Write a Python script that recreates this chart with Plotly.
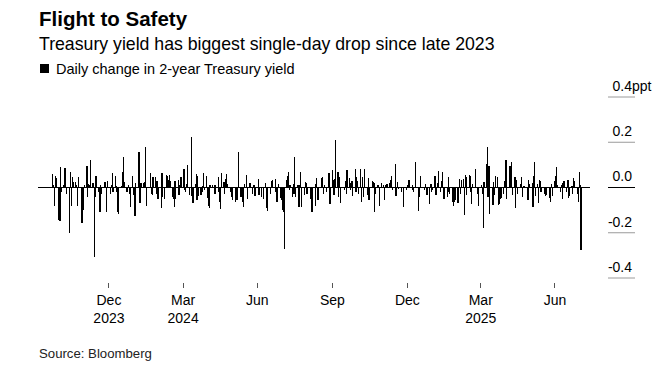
import plotly.graph_objects as go
import pandas as pd

# ---------------- data ----------------
start_date = "2023-10-23"
end_date = "2025-08-01"
market_holidays = [
    "2023-11-10", "2023-11-23", "2023-12-25", "2024-01-01", "2024-01-15",
    "2024-02-19", "2024-05-27", "2024-06-19", "2024-07-04", "2024-09-02",
    "2024-10-14", "2024-11-11", "2024-11-28", "2024-12-25", "2025-01-01",
    "2025-01-20", "2025-02-17", "2025-05-26", "2025-06-19", "2025-07-04",
]

# daily change in 2-year Treasury yield (percentage points), one per trading day
daily_change = [
    0.06, 0.01, -0.08, 0.05, 0.04, -0.145, -0.15, -0.15, 0.09, -0.02,
    0.01, 0.085, 0.04, -0.03, -0.20, 0.07, -0.08, 0.045, 0.025, 0.025,
    0.01, -0.08, 0.045, -0.11, -0.155, -0.14, -0.10, 0.01, 0.094, -0.043,
    0.016, 0.01, 0.12, 0.02, 0.02,
    -0.306,
    -0.043, 0.05, -0.02, -0.035, -0.11, 0.012, -0.028, 0.023, 0.023, -0.11,
    0.03, -0.028, 0.01, 0.065, -0.02, 0.05, 0.005, -0.02, -0.11, -0.115,
    0.005, 0.07, 0.136, 0.026, -0.02, -0.02, 0.01, -0.028, -0.087, 0.053,
    -0.035, -0.05, -0.128, 0.02, 0.048, 0.158, -0.07, 0.02, 0.02, 0.02,
    0.023, 0.179, -0.08, 0.003, 0.063, -0.028, -0.035, 0.045, 0.045, -0.028,
    0.03,
    -0.05, -0.05, -0.09, 0.065, -0.043, 0.002, -0.053, 0.056, 0.053,
    0.034, 0.056, 0.03, -0.043, -0.05, -0.084, 0.03, -0.05, 0.034, -0.035,
    0.009, 0.048, 0.048, 0.082, -0.013, -0.018, 0.016, 0.1, -0.035, 0.002,
    0.224,
    -0.038, -0.067, 0.016, 0.06, -0.057, 0.05, -0.038, -0.032, -0.02, 0.005,
    0.065, -0.013, 0.05, -0.047, -0.08, -0.09, 0.012, 0.009, 0.003, 0.012,
    -0.028, 0.009, 0.045, -0.02, -0.065, -0.094, 0.065, 0.026, -0.028, 0.038,
    0.06, 0.016, -0.02, 0.002, -0.043, -0.057, -0.065, -0.05, -0.057, -0.02,
    0.158,
    -0.043, 0.002, -0.065, -0.087, 0.016, 0.056, -0.05, 0.004, 0.02, -0.028,
    0.009, 0.009, -0.038, 0.004, 0.038, -0.035, -0.028, -0.043, -0.053, 0.002,
    0.02, -0.09, -0.105, 0.002, -0.028, 0.016, 0.03, 0.035, 0.038, -0.02,
    -0.065, -0.028, 0.016, -0.047, -0.057, -0.1, -0.108,
    -0.27,
    0.035, 0.053, 0.07, -0.013, 0.012, -0.043, 0.016, -0.028, 0.133, -0.043,
    0.012, -0.087, 0.009, 0.068, -0.087, 0.002, -0.035, 0.023, 0.02, -0.028,
    -0.05, -0.057, -0.11, -0.1, -0.08, 0.016, 0.041, -0.057, -0.057, -0.003,
    0.041, 0.045, -0.028, 0.009, -0.02, 0.004, 0.016, 0.065, -0.072, 0.079,
    0.035, -0.035, 0.038,
    0.211,
    0.07, -0.043, 0.045, -0.068, 0.003, -0.013, 0.03, -0.028, 0.079, 0.041,
    -0.013, 0.02, 0.03, -0.038, 0.082, -0.02, 0.045, 0.03, -0.028, 0.082,
    -0.065, 0.045, -0.043, 0.082, -0.035, 0.041, -0.057, -0.047, 0.03, 0.026,
    0.02,
    -0.108, -0.028, 0.009, 0.006, -0.08, 0.02, 0.009, -0.057, 0.012, 0.016,
    0.016, 0.02, 0.012, 0.035, 0.05, -0.013, 0.104, -0.038, -0.02, 0.026,
    -0.006, 0.002, -0.02, -0.087, 0.002, -0.013, 0.009, 0.035, 0.02, 0.012,
    -0.013, -0.02, 0.002,
    0.111,
    0.003, -0.105, -0.043, 0.05, -0.003, -0.013, 0.016, -0.028, -0.035, -0.072,
    0.012, 0.016, -0.02, -0.013, 0.05, -0.035, -0.028, 0.02, 0.075, -0.02,
    0.03, 0.068, -0.05, -0.05, -0.043, 0.045, -0.02, -0.028, -0.057, -0.065,
    -0.08, -0.065, -0.057, -0.068, -0.047, 0.038, -0.028, 0.035, 0.038, -0.12,
    0.056, 0.045, -0.035, 0.056, 0.053, -0.02, -0.072, 0.016, 0.003, 0.082,
    0.003, -0.028, -0.08, 0.003, 0.009, -0.028,
    -0.18,
    0.023, 0.104,
    0.177, -0.043, 0.094, -0.116, -0.072, -0.076, 0.026, -0.035, 0.053, 0.045,
    -0.076, -0.072, -0.053, -0.047, -0.028, 0.03, 0.094, 0.123, -0.05, 0.009,
    0.094, 0.053, 0.114, -0.035, 0.045, -0.091, 0.035, -0.028, 0.002, 0.016,
    0.045, -0.043, 0.003, 0.006, -0.035, -0.057, 0.035, 0.016, 0.02, -0.087,
    0.05, 0.111, -0.038, 0.016, -0.068, 0.035, 0.03, -0.02, -0.003, -0.028,
    -0.038, -0.035, -0.047, -0.047, -0.065, 0.016, -0.038, 0.03, 0.05, 0.09,
    0.012, -0.02, 0.009, -0.05, 0.02, 0.03, -0.02, 0.02, 0.035, -0.047,
    -0.038, 0.006, -0.028, 0.041, 0.03, 0.003, -0.028, -0.062, 0.068, 0.012,
    -0.276,
]

x_tick_dates = ["2023-12-31", "2024-03-31", "2024-06-30", "2024-09-30",
                "2024-12-31", "2025-03-31", "2025-06-30"]
x_tick_labels = ["Dec<br>2023", "Mar<br>2024", "Jun", "Sep", "Dec",
                 "Mar<br>2025", "Jun"]
y_tick_values = [-0.4, -0.2, 0.0, 0.2, 0.4]
y_tick_labels = ["-0.4", "-0.2", "0.0", "0.2", "0.4"]
y_unit = "ppt"
x_range = ["2023-10-05", "2025-08-12"]
y_range = [-0.4, 0.4]

title_text = "Flight to Safety"
subtitle_text = "Treasury yield has biggest single-day drop since late 2023"
legend_text = "Daily change in 2-year Treasury yield"
source_text = "Source: Bloomberg"

# ---------------- build ----------------
dates = pd.bdate_range(start_date, end_date, freq="C", holidays=market_holidays)
if len(dates) != len(daily_change):
    raise ValueError(f"{len(dates)} dates vs {len(daily_change)} values")

FONT = "Liberation Sans, Arial, Helvetica, sans-serif"
W, H = 668, 374
ML, MR, MT, MB = 38, 30, 70, 92
PW = W - ML - MR          # paper width in px
PH = H - MT - MB          # paper height in px
PLOT_TOP, PLOT_BOTTOM = 97, 278      # pixel rows of the y range ends


def px_x(px):
    return (px - ML) / PW


def px_y(py):
    return (H - MB - py) / PH


# the label/stub axis uses the same scale as the main y axis, over a taller band
units_per_px = (y_range[1] - y_range[0]) / (PLOT_BOTTOM - PLOT_TOP)
STUB_TOP, STUB_BOTTOM = 72, 281
y2_range = [y_range[0] - (STUB_BOTTOM - PLOT_BOTTOM) * units_per_px,
            y_range[1] + (PLOT_TOP - STUB_TOP) * units_per_px]

fig = go.Figure()
fig.add_trace(go.Bar(
    x=dates, y=daily_change,
    marker=dict(color="#000000", line=dict(width=0)),
    width=86400000 * 1.5,
    showlegend=False,
))
# empty trace that creates the small right-hand subplot holding the y labels
fig.add_trace(go.Scatter(x=[None], y=[None], xaxis="x2", yaxis="y2",
                         showlegend=False, hoverinfo="skip"))

shapes = [dict(
    type="rect", xref="paper", yref="paper",
    x0=px_x(40), x1=px_x(49), y0=px_y(73), y1=px_y(64),
    fillcolor="#000000", line=dict(width=0),
)]
for v in y_tick_values:
    shapes.append(dict(
        type="line", xref="x2", yref="y2", x0=0, x1=1, y0=v, y1=v,
        line=dict(color="#000000" if v == 0 else "#9a9a9a", width=1),
    ))

annotations = [
    dict(text=f"<b>{title_text}</b>", x=px_x(37), y=px_y(18),
         xref="paper", yref="paper", xanchor="left", yanchor="middle",
         showarrow=False, font=dict(family=FONT, size=20.5, color="#000000")),
    dict(text=subtitle_text, x=px_x(37), y=px_y(44),
         xref="paper", yref="paper", xanchor="left", yanchor="middle",
         showarrow=False, font=dict(family=FONT, size=17.7, color="#000000")),
    dict(text=legend_text, x=px_x(54), y=px_y(69),
         xref="paper", yref="paper", xanchor="left", yanchor="middle",
         showarrow=False, font=dict(family=FONT, size=14.5, color="#000000")),
    dict(text=source_text, x=px_x(37), y=px_y(353),
         xref="paper", yref="paper", xanchor="left", yanchor="middle",
         showarrow=False, font=dict(family=FONT, size=13.2, color="#222222")),
    dict(text=y_unit, x=px_x(630), y=y_tick_values[-1], yshift=11,
         xref="paper", yref="y2", xanchor="left", yanchor="middle",
         showarrow=False, font=dict(family=FONT, size=14, color="#000000")),
]

fig.update_layout(
    width=W, height=H,
    margin=dict(l=ML, r=MR, t=MT, b=MB, pad=0, autoexpand=False),
    paper_bgcolor="#ffffff", plot_bgcolor="#ffffff",
    bargap=0,
    font=dict(family=FONT, size=14, color="#000000"),
    shapes=shapes,
    annotations=annotations,
    xaxis=dict(
        type="date", range=x_range, domain=[0, px_x(590)],
        anchor="free", position=0, automargin=False,
        tickvals=x_tick_dates, ticktext=x_tick_labels,
        ticks="outside", ticklen=5, tickwidth=1, tickcolor="#555555",
        showgrid=False, zeroline=False, showline=False,
        tickfont=dict(family=FONT, size=14, color="#000000"),
    ),
    yaxis=dict(
        range=y_range, domain=[px_y(PLOT_BOTTOM), px_y(PLOT_TOP)],
        anchor="x", automargin=False,
        showticklabels=False, ticks="",
        showgrid=False, showline=False,
        zeroline=True, zerolinecolor="#000000", zerolinewidth=1,
    ),
    xaxis2=dict(
        domain=[px_x(608), px_x(635)], anchor="y2", range=[0, 1],
        showticklabels=False, ticks="", showgrid=False, zeroline=False,
        showline=False, automargin=False,
    ),
    yaxis2=dict(
        range=y2_range, domain=[px_y(STUB_BOTTOM), px_y(STUB_TOP)],
        anchor="x2", side="right", automargin=False,
        tickvals=y_tick_values, ticktext=y_tick_labels,
        ticks="", ticklabelposition="inside", ticklabelshift=-11,
        ticklabelstandoff=0,
        showgrid=False, zeroline=False, showline=False,
        tickfont=dict(family=FONT, size=14, color="#000000"),
    ),
)

fig.write_html("out.html", config={"staticPlot": True},
               post_script="document.body.style.margin='0';")
